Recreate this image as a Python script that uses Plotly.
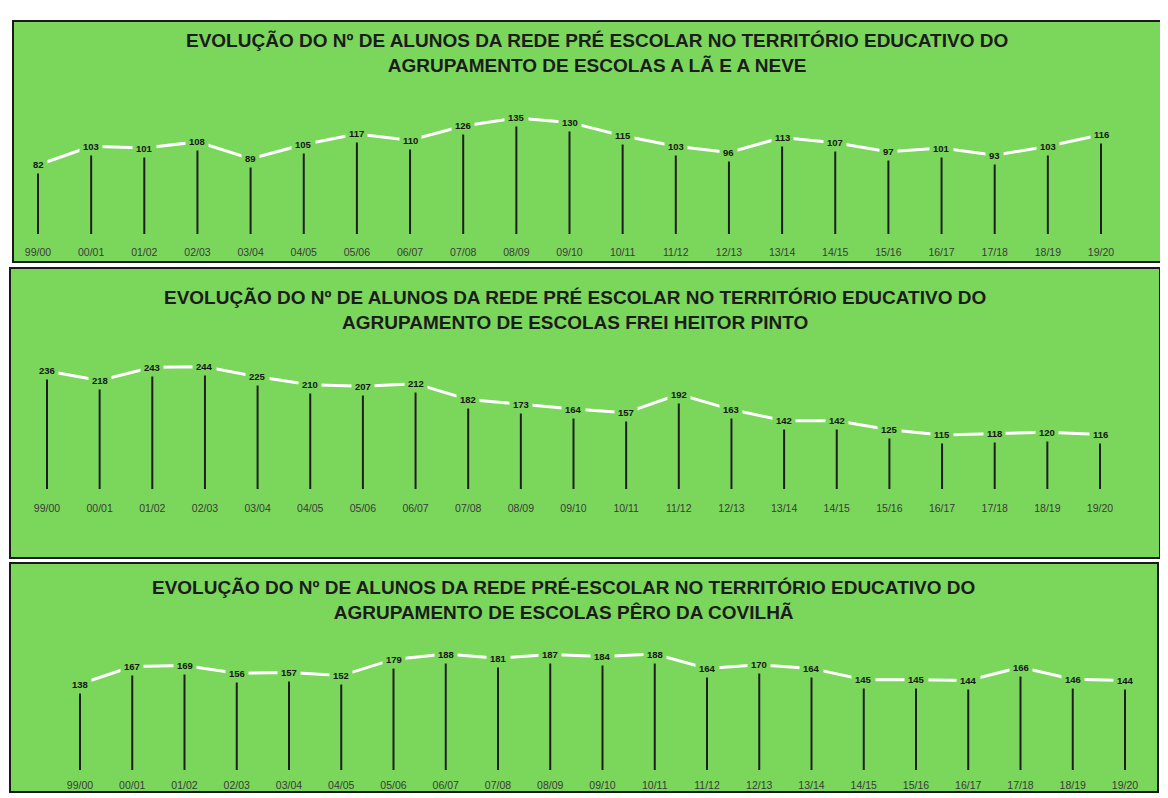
import plotly.graph_objects as go

# page has an 8px body margin, so the figure is drawn 8px in from the top-left
OFF = 8
W, H = 1168 - OFF, 798 - OFF

categories = ["99/00", "00/01", "01/02", "02/03", "03/04", "04/05", "05/06", "06/07",
              "07/08", "08/09", "09/10", "10/11", "11/12", "12/13", "13/14", "14/15",
              "15/16", "16/17", "17/18", "18/19", "19/20"]

la_neve = [82, 103, 101, 108, 89, 105, 117, 110, 126, 135, 130, 115, 103, 96, 113, 107,
           97, 101, 93, 103, 116]
frei_heitor = [236, 218, 243, 244, 225, 210, 207, 212, 182, 173, 164, 157, 192, 163, 142,
               142, 125, 115, 118, 120, 116]
pero_covilha = [138, 167, 169, 156, 157, 152, 179, 188, 181, 187, 184, 188, 164, 170, 164,
                145, 145, 144, 166, 146, 144]

titles = [
    "EVOLUÇÃO DO Nº DE ALUNOS DA REDE PRÉ ESCOLAR NO TERRITÓRIO EDUCATIVO DO<br>AGRUPAMENTO DE ESCOLAS A LÃ E A NEVE",
    "EVOLUÇÃO DO Nº DE ALUNOS DA REDE PRÉ ESCOLAR NO TERRITÓRIO EDUCATIVO DO<br>AGRUPAMENTO DE ESCOLAS FREI HEITOR PINTO",
    "EVOLUÇÃO DO Nº DE ALUNOS DA REDE PRÉ-ESCOLAR NO TERRITÓRIO EDUCATIVO DO<br>AGRUPAMENTO DE ESCOLAS PÊRO DA COVILHÃ",
]
series = [la_neve, frei_heitor, pero_covilha]

GREEN = "#7ad75b"
FONT = "Liberation Sans"

# panel geometry in page pixels
panels = [
    dict(l=13, r=1163, t=21, b=262, x0=38, dx=53.15, k=0.887, z=237.7, base=234, tick=244, ty=53, tx=597),
    dict(l=10, r=1160, t=268, b=558, x0=47, dx=52.65, k=0.529, z=495.8, base=489, tick=500, ty=310, tx=575),
    dict(l=10, r=1158, t=563, b=792, x0=80, dx=52.25, k=0.60, z=766.8, base=770, tick=777, ty=600, tx=563),
]

def px(x):
    return (x - OFF) / W

def py(y):
    return 1 - (y - OFF) / H

fig = go.Figure()
layout = dict(width=W, height=H, margin=dict(l=0, r=0, t=0, b=0),
              paper_bgcolor="white", plot_bgcolor="rgba(0,0,0,0)",
              showlegend=False, shapes=[], annotations=[])

for i, (p, vals, title) in enumerate(zip(panels, series, titles)):
    n = i + 1
    xa = "x" if n == 1 else f"x{n}"
    ya = "y" if n == 1 else f"y{n}"
    base_val = (p["z"] - p["base"]) / p["k"]
    fig.add_trace(go.Scatter(
        x=categories, y=vals, mode="lines", xaxis=xa, yaxis=ya,
        line=dict(color="white", width=3),
        error_y=dict(type="data", symmetric=False, array=[0] * len(vals),
                     arrayminus=[v - base_val for v in vals], width=0,
                     thickness=2, color="#1e1e1e"),
        hoverinfo="skip"))
    for c, v in zip(categories, vals):
        layout["annotations"].append(dict(
            x=c, y=v, xref=xa, yref=ya, text=f"<b>{v}</b>", showarrow=False,
            xanchor="center", yanchor="middle",
            font=dict(family=FONT, size=9.5, color="#151515"),
            bgcolor=GREEN, borderpad=3))
    xr = [(p["l"] - p["x0"]) / p["dx"], (p["r"] - p["x0"]) / p["dx"]]
    yr = [(p["z"] - p["b"]) / p["k"], (p["z"] - p["t"]) / p["k"]]
    key_x = "xaxis" if n == 1 else f"xaxis{n}"
    key_y = "yaxis" if n == 1 else f"yaxis{n}"
    layout[key_x] = dict(domain=[px(p["l"]), px(p["r"])], range=xr, type="category",
                         anchor="free", position=py(p["tick"]), showgrid=False,
                         zeroline=False, showline=False, ticks="",
                         tickfont=dict(family=FONT, size=10.5, color="#3a3a3a"),
                         fixedrange=True)
    layout[key_y] = dict(domain=[py(p["b"]), py(p["t"])], range=yr, visible=False,
                         anchor=xa, fixedrange=True)
    layout["shapes"].append(dict(type="rect", xref="paper", yref="paper",
                                 x0=px(p["l"]), x1=px(p["r"]), y0=py(p["b"]), y1=py(p["t"]),
                                 fillcolor=GREEN, line=dict(color="#1a1a1a", width=2),
                                 layer="below"))
    layout["annotations"].append(dict(
        x=px(p["tx"]), y=py(p["ty"]), xref="paper", yref="paper", text=f"<b>{title}</b>",
        showarrow=False, align="center", xanchor="center", yanchor="middle",
        font=dict(family=FONT, size=19, color="#1c1c1c")))

fig.update_layout(**layout)
fig.write_html("out.html")
